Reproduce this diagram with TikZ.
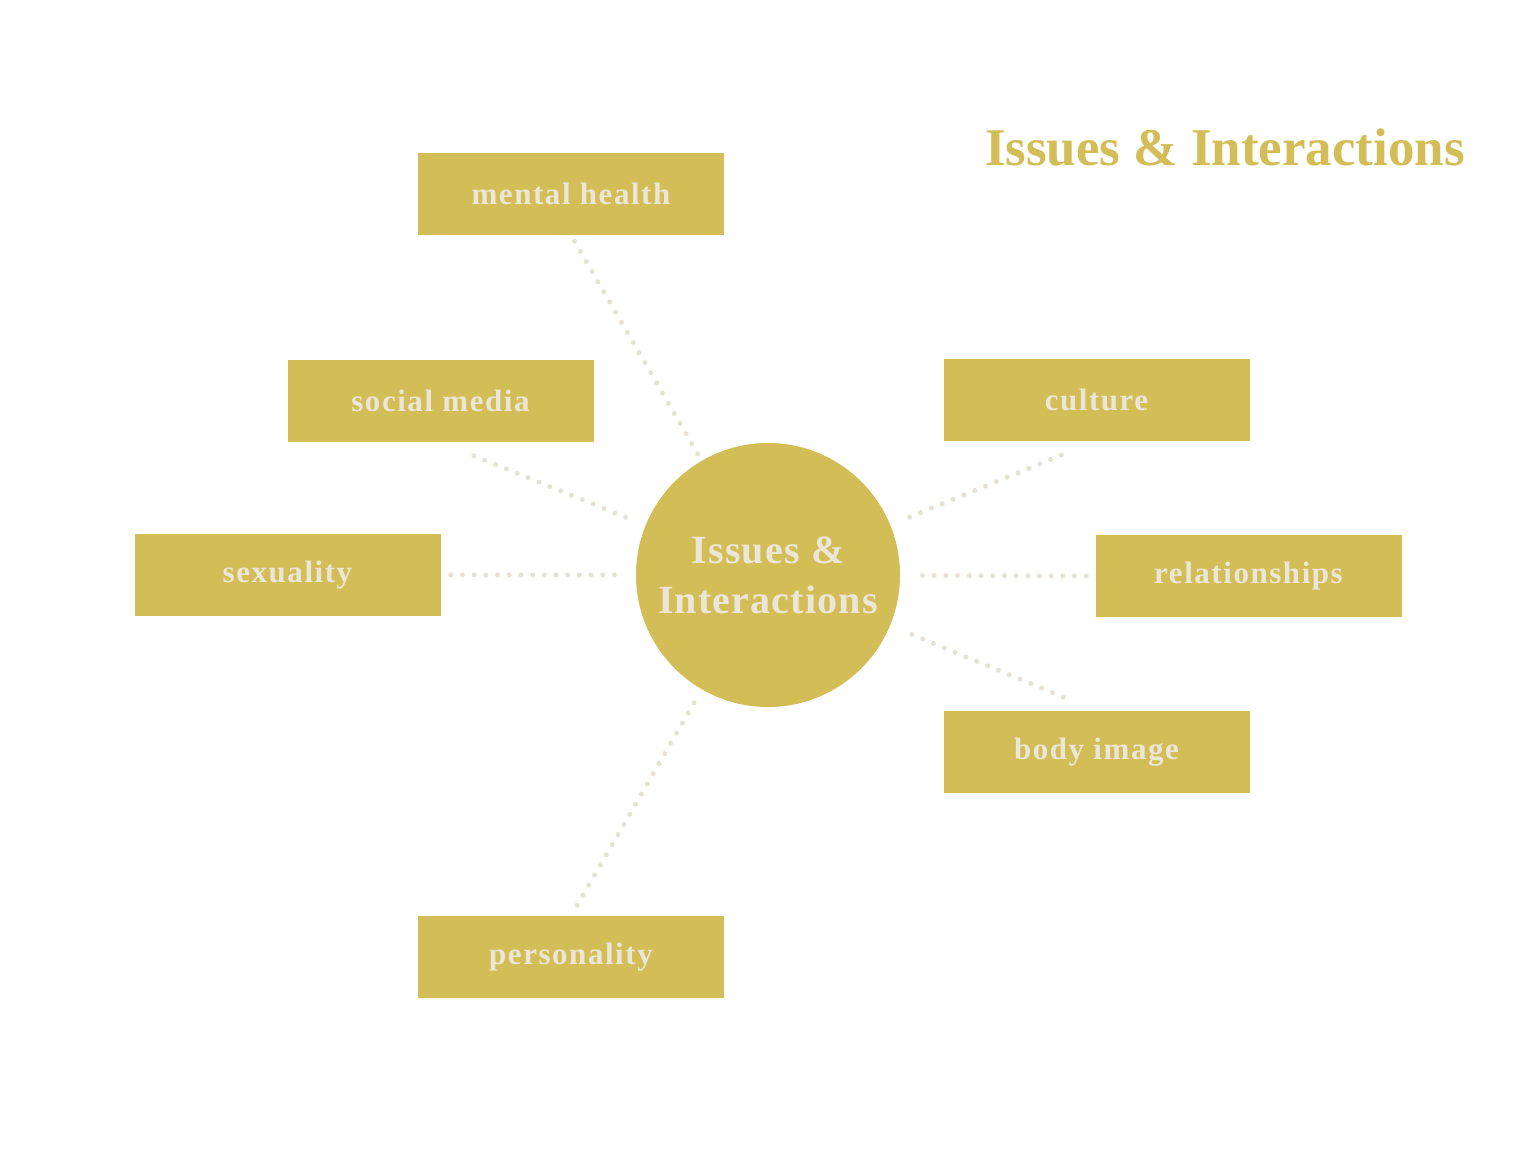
\documentclass[tikz,border=0pt]{standalone}
\usepackage{fontspec}
\setmainfont{Liberation Serif}
\newfontfamily\labelfont[LetterSpace=5.0]{Liberation Serif}
\newfontfamily\hubfont[LetterSpace=3.0]{Liberation Serif}
\definecolor{gold}{HTML}{D3BD57}
\definecolor{cream}{HTML}{ECE6D8}
\definecolor{dotc}{HTML}{E6E1D2}
\begin{document}
\begin{tikzpicture}[x=1pt,y=-1pt,
  topic/.style={rectangle, fill=gold, minimum width=306pt, minimum height=82pt, inner sep=0pt,
    text=cream, font=\labelfont\bfseries\fontsize{31}{36}\selectfont},
  hub/.style={circle, fill=gold, minimum size=264pt, inner sep=0pt, align=center,
    text=cream, font=\hubfont\bfseries\fontsize{40}{50}\selectfont},
  dotline/.style={draw=dotc, line width=5pt, line cap=round, dash pattern=on 0pt off 11.7pt}]
\useasboundingbox (0,0) rectangle (1536,1152);
\fill[white] (0,0) rectangle (1536,1152);

\node[hub] (c) at (768,575) {Issues \&\\Interactions};

\node[topic] (mh) at (571,194) {mental health};
\node[topic] (sm) at (440.5,401) {social media};
\node[topic] (sx) at (287.5,575) {sexuality};
\node[topic] (cu) at (1096.5,399.5) {culture};
\node[topic] (rl) at (1248.5,576) {relationships};
\node[topic] (bi) at (1096.5,752) {body image};
\node[topic] (pe) at (571,957) {personality};

\node[anchor=base, text=gold, font=\bfseries\fontsize{53}{60}\selectfont] (title) at (1225,165) {Issues \& Interactions};

\draw[dotline, shorten <=7pt, shorten >=7pt] (mh.south) -- (c);
\draw[dotline, shorten <=36pt, shorten >=13pt] (sm.south) -- (c);
\draw[dotline, shorten <=10pt, shorten >=11pt] (sx.east) -- (c);
\draw[dotline, shorten <=38pt, shorten >=13pt] (cu.south) -- (c);
\draw[dotline, shorten <=9pt, shorten >=13pt] (rl.west) -- (c);
\draw[dotline, shorten <=36pt, shorten >=13pt] (bi.north) -- (c);
\draw[dotline, shorten <=12pt, shorten >=6pt] (pe.north) -- (c);
\end{tikzpicture}
\end{document}
